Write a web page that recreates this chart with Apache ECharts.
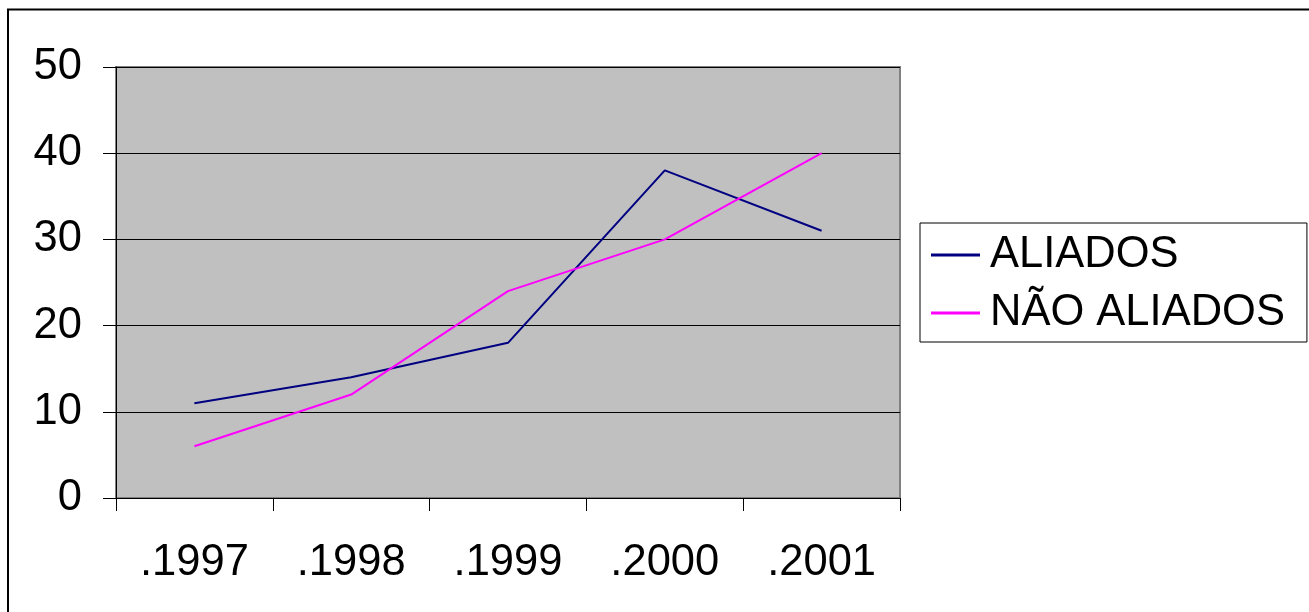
<!DOCTYPE html>
<html>
<head>
<meta charset="utf-8">
<script src="https://cdn.jsdelivr.net/npm/echarts@6/dist/echarts.min.js"></script>
<style>
html,body{margin:0;padding:0;background:#fff;}
#chart{width:1309px;height:612px;}
</style>
</head>
<body>
<div id="chart"></div>
<script>
var categories = ['.1997', '.1998', '.1999', '.2000', '.2001'];
var aliados = [11, 14, 18, 38, 31];
var naoAliados = [6, 12, 24, 30, 40];
var yTicks = [0, 10, 20, 30, 40, 50];

var font = 'Liberation Sans, Arial, sans-serif';
var fs = 43.5;
var chart = echarts.init(document.getElementById('chart'), null, {renderer: 'canvas'});
chart.setOption({
  backgroundColor: '#ffffff',
  animation: false,
  graphic: [{
    type: 'rect',
    shape: {x: 8, y: 9.5, width: 1320, height: 620},
    style: {fill: 'none', stroke: '#000', lineWidth: 2},
    silent: true
  }],
  grid: {
    left: 116, right: 409, top: 67, bottom: 114,
    show: true, backgroundColor: '#c0c0c0', borderColor: '#808080', borderWidth: 2
  },
  legend: {
    orient: 'vertical',
    left: 920, top: 223,
    padding: [8, 22, 5, 11],
    itemWidth: 49, itemHeight: 3, itemGap: 10,
    borderColor: '#000', borderWidth: 1,
    backgroundColor: '#fff',
    icon: 'rect',
    textStyle: {fontFamily: font, fontSize: fs, color: '#000', lineHeight: 48, padding: [0, 0, 0, 5]},
    data: ['ALIADOS', 'NÃO ALIADOS']
  },
  xAxis: {
    type: 'category',
    data: categories,
    boundaryGap: true,
    axisLine: {lineStyle: {color: '#000', width: 1}},
    axisTick: {show: true, length: 13, lineStyle: {color: '#000'}},
    axisLabel: {fontFamily: font, fontSize: fs, color: '#000', margin: 43},
    splitLine: {show: false}
  },
  yAxis: {
    type: 'value',
    min: yTicks[0], max: yTicks[yTicks.length - 1], interval: 10,
    axisLine: {show: true, lineStyle: {color: '#000', width: 1}},
    axisTick: {show: true, length: 13, lineStyle: {color: '#000'}},
    axisLabel: {fontFamily: font, fontSize: fs, color: '#000', margin: 34},
    splitLine: {show: true, lineStyle: {color: '#000', width: 1}}
  },
  series: [
    {
      name: 'ALIADOS', type: 'line', data: aliados,
      symbol: 'none', lineStyle: {color: '#000080', width: 2}, itemStyle: {color: '#000080'}
    },
    {
      name: 'NÃO ALIADOS', type: 'line', data: naoAliados,
      symbol: 'none', lineStyle: {color: '#ff00ff', width: 2}, itemStyle: {color: '#ff00ff'}
    }
  ]
});
</script>
</body>
</html>
